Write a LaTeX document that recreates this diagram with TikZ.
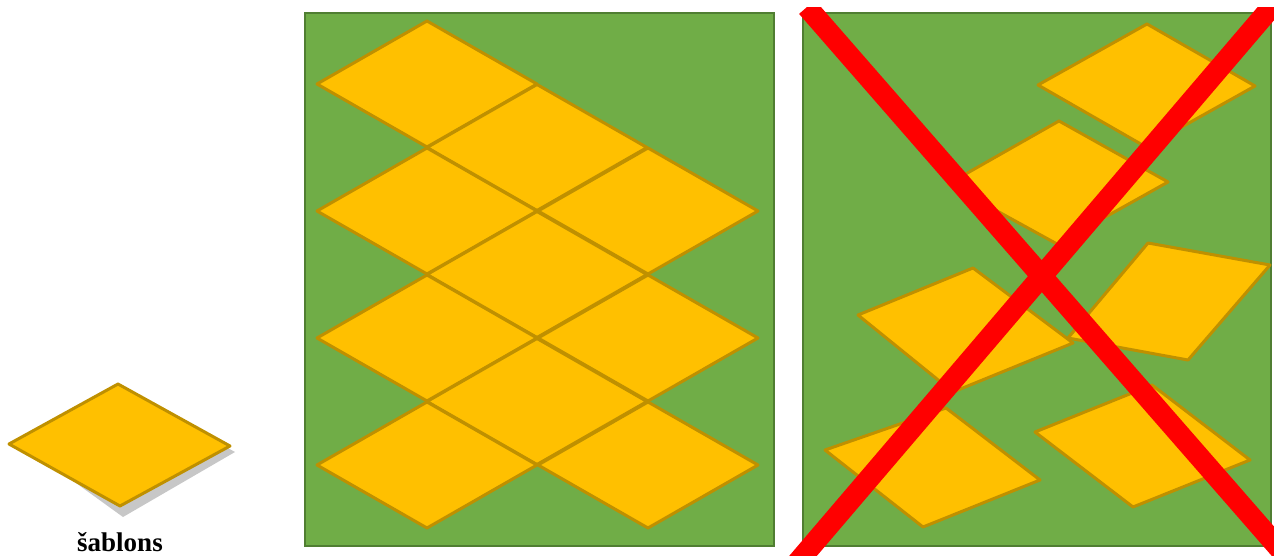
\documentclass[tikz,border=0pt]{standalone}
\usepackage{fontspec}
\setmainfont{Liberation Serif}
\usepackage{xcolor}
\usepackage{tikz}
\usetikzlibrary{calc}
\definecolor{LeafGreen}{RGB}{112,173,71}
\definecolor{LeafEdge}{RGB}{80,126,50}
\definecolor{TileGold}{RGB}{255,192,0}
\definecolor{TileEdge}{RGB}{191,144,0}
\definecolor{CrossRed}{RGB}{255,0,0}

\begin{document}
\begin{tikzpicture}[x=1pt, y=-1pt,
		field/.style={fill=LeafGreen, draw=LeafEdge, line width=2.5pt},
		tile/.style={fill=TileGold, draw=TileEdge, line width=3pt, line join=round},
		cross/.style={draw=CrossRed, line width=21pt}]
			\useasboundingbox (0,0) rectangle (1274,555);
			% template tile with its shadow
			\fill[black!22] (22,444) -- (121,389) -- (235,452) -- (123,517) -- cycle;
			\draw[tile] (9,444) -- (118,384) -- (230,446) -- (120,506) -- cycle;
			\node[anchor=base, font=\bfseries\fontsize{27}{30}\selectfont] (label) at (120,551) {šablons};
			% regular tiling
			\draw[field] (305,13) rectangle (774,546);
			\foreach \cx/\cy in {427/84, 537/147.5, 427/211, 648/211, 537/274.5,
				427/338, 648/338, 537/401.5, 427/465, 648/465}
				\draw[tile] (\cx-110,\cy) -- (\cx,\cy-63) -- (\cx+110,\cy) -- (\cx,\cy+63) -- cycle;
			% irregular placement
			\draw[field] (803,13) rectangle (1271,546);
			\draw[tile] (1038,85) -- (1147,24) -- (1255,86) -- (1146,147) -- cycle;
			\draw[tile] (948,184) -- (1059,121) -- (1168,182) -- (1057,244) -- cycle;
			\draw[tile] (858,315) -- (973,268) -- (1073,343) -- (953,392) -- cycle;
			\draw[tile] (1068,338) -- (1148,243) -- (1270,265) -- (1188,360) -- cycle;
			\draw[tile] (825,450) -- (946,408) -- (1040,480) -- (923,527) -- cycle;
			\draw[tile] (1035,432) -- (1152,385) -- (1250,460) -- (1133,507) -- cycle;
			\begin{scope}
				\clip (780,7) rectangle (1274,555);
				\draw[cross] (807,7) -- (1298,570);
				\draw[cross] (1286,-10) -- (791,570);
			\end{scope}
		\end{tikzpicture}
\end{document}
